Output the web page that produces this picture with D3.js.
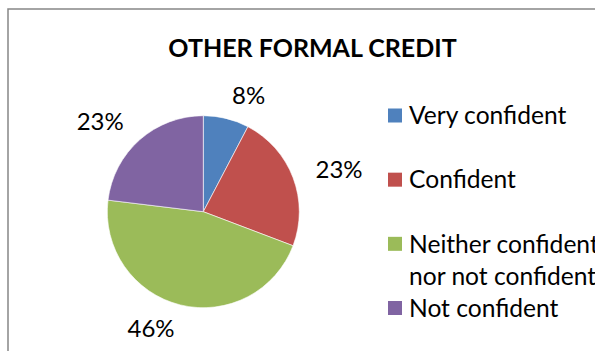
<!DOCTYPE html>
<html>
<head>
<meta charset="utf-8">
<script src="https://cdn.jsdelivr.net/npm/d3@7"></script>
<style>
  html, body { margin: 0; padding: 0; background: #fff; overflow: hidden; }
  svg { display: block; }
</style>
</head>
<body>
<svg id="chart" width="595" height="351"></svg>
<script>
// ---- data ----
const title = "OTHER FORMAL CREDIT";
const categories = ["Very confident", "Confident", "Neither confident nor not confident", "Not confident"];
const legendLines = [["Very confident"], ["Confident"], ["Neither confident", "nor not confident"], ["Not confident"]];
const values = [7.7, 23.1, 46.2, 23.1];
const colors = ["#4F81BD", "#C0504D", "#9BBB59", "#8064A2"];

// ---- layout ----
const W = 595, H = 351;
const cx = 203.3, cy = 211.7, r = 96;
const fontFamily = "Lato, 'Liberation Sans', sans-serif";

const svg = d3.select("#chart");

// outer chart border (extends beyond viewport on right/bottom)
svg.append("rect")
  .attr("x", 8).attr("y", 9)
  .attr("width", 640).attr("height", 400)
  .attr("fill", "#fff")
  .attr("stroke", "#868686")
  .attr("stroke-width", 1.5);

// title
svg.append("text")
  .attr("x", 312.5).attr("y", 56.7)
  .attr("text-anchor", "middle")
  .attr("font-family", fontFamily)
  .attr("font-weight", "bold")
  .attr("font-size", 25)
  .attr("fill", "#000")
  .text(title);

// pie
const total = d3.sum(values);
const pie = d3.pie().sort(null).value(d => d).startAngle(0).endAngle(2 * Math.PI);
const arcs = pie(values);
const arc = d3.arc().innerRadius(0).outerRadius(r);
const color = d3.scaleOrdinal().domain(categories).range(colors);

const g = svg.append("g").attr("transform", `translate(${cx},${cy})`);
g.selectAll("path.slice")
  .data(arcs)
  .join("path")
  .attr("class", "slice")
  .attr("d", arc)
  .attr("fill", (d, i) => color(categories[i]))
  .attr("stroke", "#fff")
  .attr("stroke-width", 0.6);

// data labels
const fmt = d3.format(".0%");
const labelR = r * 1.25;
g.selectAll("text.lbl")
  .data(arcs)
  .join("text")
  .attr("class", "lbl")
  .attr("x", d => labelR * Math.sin((d.startAngle + d.endAngle) / 2))
  .attr("y", d => -labelR * Math.cos((d.startAngle + d.endAngle) / 2))
  .attr("dy", "0.35em")
  .attr("text-anchor", d => Math.sin((d.startAngle + d.endAngle) / 2) >= 0 ? "start" : "end")
  .attr("font-family", fontFamily)
  .attr("font-size", 24)
  .attr("fill", "#000")
  .text(d => fmt(d.value / total));

// legend
const ly = d3.scalePoint().domain(categories).range([115.5, 308]);
const lg = svg.append("g");
const items = lg.selectAll("g.item")
  .data(categories)
  .join("g")
  .attr("class", "item")
  .attr("transform", d => `translate(388,${ly(d)})`);
items.append("rect")
  .attr("x", 0).attr("y", -7)
  .attr("width", 14).attr("height", 14)
  .attr("fill", d => color(d));
const lt = items.append("text")
  .attr("x", 21).attr("y", 8.8)
  .attr("font-family", fontFamily)
  .attr("font-size", 24.6)
  .attr("fill", "#000");
lt.selectAll("tspan")
  .data((d, i) => legendLines[i])
  .join("tspan")
  .attr("x", 21)
  .attr("dy", (d, j) => j === 0 ? 0 : 32.6)
  .text(d => d);
</script>
</body>
</html>
